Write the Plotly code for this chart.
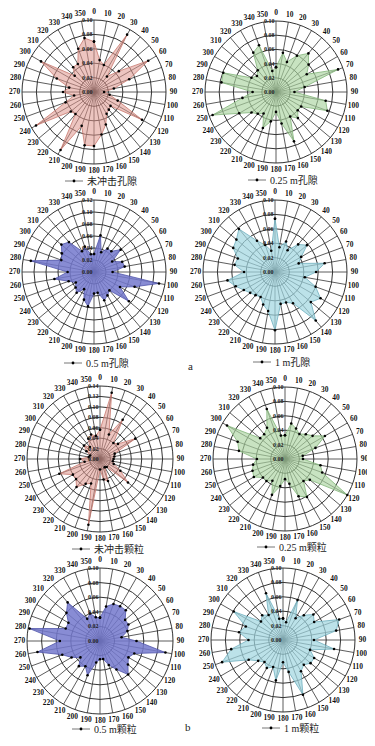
import plotly.graph_objects as go

# The page body has an 8px margin, so the figure is placed at (8, 8) in the window.
OFF = 8
W, H = 375 - OFF, 746 - OFF
angles = list(range(0, 360, 10))
angle_labels = [str(a) for a in angles]

# ---- data (relative frequency per 10-degree direction) ----
pore_0 = [0.070, 0.045, 0.040, 0.092, 0.028, 0.045, 0.087, 0.052, 0.028, 0.014,
          0.022, 0.035, 0.077, 0.030, 0.032, 0.035, 0.048, 0.060, 0.075, 0.075,
          0.050, 0.093, 0.040, 0.042, 0.093, 0.042, 0.028, 0.043, 0.035, 0.055,
          0.085, 0.035, 0.045, 0.045, 0.064, 0.076]
pore_025 = [0.035, 0.056, 0.045, 0.059, 0.071, 0.060, 0.050, 0.093, 0.041, 0.026,
            0.071, 0.077, 0.041, 0.040, 0.048, 0.040, 0.074, 0.045, 0.028, 0.042,
            0.054, 0.035, 0.040, 0.045, 0.060, 0.095, 0.048, 0.033, 0.078, 0.079,
            0.040, 0.035, 0.040, 0.064, 0.070, 0.030]
pore_05 = [0.030, 0.062, 0.035, 0.045, 0.045, 0.058, 0.035, 0.050, 0.052, 0.031,
           0.110, 0.072, 0.050, 0.076, 0.040, 0.045, 0.050, 0.035, 0.036, 0.058,
           0.049, 0.033, 0.045, 0.040, 0.035, 0.045, 0.067, 0.044, 0.107, 0.058,
           0.062, 0.071, 0.065, 0.040, 0.045, 0.030]
pore_1 = [0.074, 0.035, 0.045, 0.035, 0.050, 0.058, 0.042, 0.035, 0.070, 0.057,
          0.042, 0.060, 0.073, 0.065, 0.088, 0.050, 0.045, 0.045, 0.081, 0.055,
          0.048, 0.040, 0.042, 0.045, 0.050, 0.058, 0.067, 0.043, 0.057, 0.055,
          0.067, 0.070, 0.078, 0.050, 0.040, 0.030]
grain_0 = [0.056, 0.129, 0.050, 0.087, 0.040, 0.045, 0.078, 0.030, 0.028, 0.026,
           0.025, 0.028, 0.045, 0.070, 0.020, 0.018, 0.045, 0.040, 0.020, 0.128,
           0.050, 0.055, 0.070, 0.060, 0.060, 0.083, 0.030, 0.038, 0.022, 0.020,
           0.030, 0.040, 0.030, 0.045, 0.050, 0.045]
grain_025 = [0.033, 0.050, 0.045, 0.040, 0.045, 0.050, 0.064, 0.045, 0.025, 0.025,
             0.050, 0.055, 0.100, 0.045, 0.040, 0.061, 0.055, 0.035, 0.028, 0.038,
             0.053, 0.035, 0.040, 0.040, 0.050, 0.048, 0.045, 0.039, 0.065, 0.070,
             0.093, 0.045, 0.045, 0.050, 0.074, 0.033]
grain_05 = [0.032, 0.048, 0.054, 0.055, 0.055, 0.045, 0.045, 0.040, 0.030, 0.050,
            0.091, 0.050, 0.045, 0.050, 0.060, 0.045, 0.035, 0.025, 0.025, 0.030,
            0.050, 0.040, 0.045, 0.035, 0.045, 0.055, 0.087, 0.055, 0.098, 0.050,
            0.050, 0.060, 0.069, 0.035, 0.040, 0.033]
grain_1 = [0.030, 0.025, 0.059, 0.035, 0.045, 0.055, 0.050, 0.083, 0.075, 0.043,
           0.072, 0.040, 0.050, 0.050, 0.045, 0.050, 0.081, 0.045, 0.031, 0.057,
           0.040, 0.045, 0.040, 0.045, 0.055, 0.090, 0.073, 0.048, 0.062, 0.055,
           0.079, 0.040, 0.045, 0.040, 0.069, 0.030]

names = ["未冲击孔隙", "0.25 m孔隙", "0.5 m孔隙", "1 m孔隙",
         "未冲击颗粒", "0.25 m颗粒", "0.5 m颗粒", "1 m颗粒"]
series = [pore_0, pore_025, pore_05, pore_1, grain_0, grain_025, grain_05, grain_1]
rmax = [0.10, 0.10, 0.12, 0.10, 0.14, 0.10, 0.10, 0.10]

# ---- styling / layout (window pixels) ----
fills = ["rgba(222,150,140,0.55)", "rgba(170,212,160,0.65)",
         "rgba(115,120,205,0.85)", "rgba(160,214,224,0.70)"] * 2
edges = ["rgb(200,120,110)", "rgb(130,180,120)", "rgb(80,85,170)", "rgb(110,175,190)"] * 2
centers = [(94, 92, 72), (276, 92, 71), (94, 272, 72), (275, 272, 72),
           (100, 459, 73), (285, 459, 72), (100, 641, 73), (283, 640, 72)]
legend_pos = [(65, 181), (248, 180), (64, 363), (253, 362),
              (72, 549), (257, 547), (72, 729), (262, 728)]
EXT = 8      # px of room outside the outer ring for direction labels
LAB = 7.5    # px from outer ring to label centre


def px(x):
    return (x - OFF) / W


def py(y):
    return 1 - (y - OFF) / H


fig = go.Figure()
layout = {}
shapes = []
annotations = []
serif = "Liberation Serif, Times New Roman, serif"
cjk = "Liberation Serif, Noto Sans CJK SC, serif"

for i, (vals, nm, rm) in enumerate(zip(series, names, rmax)):
    key = "polar" if i == 0 else f"polar{i+1}"
    cx, cy, rr = centers[i]
    R = rr + EXT
    # spokes every 10 degrees, from the centre to the outer ring
    sr, st = [], []
    for a in angles:
        sr += [0, rm, None]
        st += [a, a, None]
    fig.add_trace(go.Scatterpolar(
        r=sr, theta=st, mode="lines", line=dict(color="#333", width=0.8),
        hoverinfo="skip", showlegend=False, subplot=key))
    fig.add_trace(go.Scatterpolar(
        r=vals + [vals[0]], theta=angles + [angles[0]],
        mode="lines+markers", fill="toself",
        fillcolor=fills[i], line=dict(color=edges[i], width=0.8),
        marker=dict(color="black", size=2.6),
        subplot=key, showlegend=False, name=nm))
    # direction labels just outside the outer ring
    fig.add_trace(go.Scatterpolar(
        r=[rm * (1 + LAB / rr)] * len(angles), theta=angles, text=angle_labels,
        mode="text", cliponaxis=False, hoverinfo="skip", showlegend=False,
        textfont=dict(family=serif, size=7.5, color="rgba(10,10,10,0.97)", weight="bold"),
        subplot=key))
    ticks = [round(k * 0.02, 2) for k in range(int(round(rm / 0.02)) + 1)]
    layout[key] = dict(
        domain=dict(x=[max(0, px(cx - R)), min(1, px(cx + R))],
                    y=[max(0, py(cy + R)), min(1, py(cy - R))]),
        bgcolor="rgba(0,0,0,0)",
        angularaxis=dict(rotation=90, direction="clockwise",
                         showticklabels=False, showgrid=False,
                         showline=False, ticks=""),
        radialaxis=dict(range=[0, rm * R / rr], tickvals=ticks,
                        ticktext=[f"{t:.2f}" for t in ticks],
                        angle=90, tickangle=90, side="counterclockwise",
                        showgrid=True, gridcolor="#333", gridwidth=0.9,
                        showline=False, ticks="",
                        tickfont=dict(family=serif, size=6, color="#222", weight="bold")),
    )
    lx, ly = legend_pos[i]
    yy = py(ly)
    shapes.append(dict(type="line", xref="paper", yref="paper", x0=px(lx), x1=px(lx + 18),
                       y0=yy, y1=yy, line=dict(color="#777", width=1)))
    shapes.append(dict(type="circle", xref="paper", yref="paper",
                       x0=px(lx + 9 - 1.4), x1=px(lx + 9 + 1.4),
                       y0=py(ly + 1.4), y1=py(ly - 1.4),
                       fillcolor="black", line=dict(color="black", width=0)))
    annotations.append(dict(x=px(lx + 20), y=yy, xref="paper", yref="paper",
                            text=nm, showarrow=False, xanchor="left", yanchor="middle",
                            font=dict(family=cjk, size=10, color="#222")))

annotations.append(dict(x=px(190), y=py(366), xref="paper", yref="paper", text="a",
                        showarrow=False, font=dict(family=serif, size=11, color="#222")))
annotations.append(dict(x=px(188), y=py(735), xref="paper", yref="paper", text="b",
                        showarrow=False, font=dict(family=serif, size=11, color="#222")))

fig.update_layout(width=W, height=H, margin=dict(l=0, r=0, t=0, b=0),
                  paper_bgcolor="white", plot_bgcolor="white",
                  shapes=shapes, annotations=annotations, showlegend=False, **layout)
fig.write_html("out.html")
